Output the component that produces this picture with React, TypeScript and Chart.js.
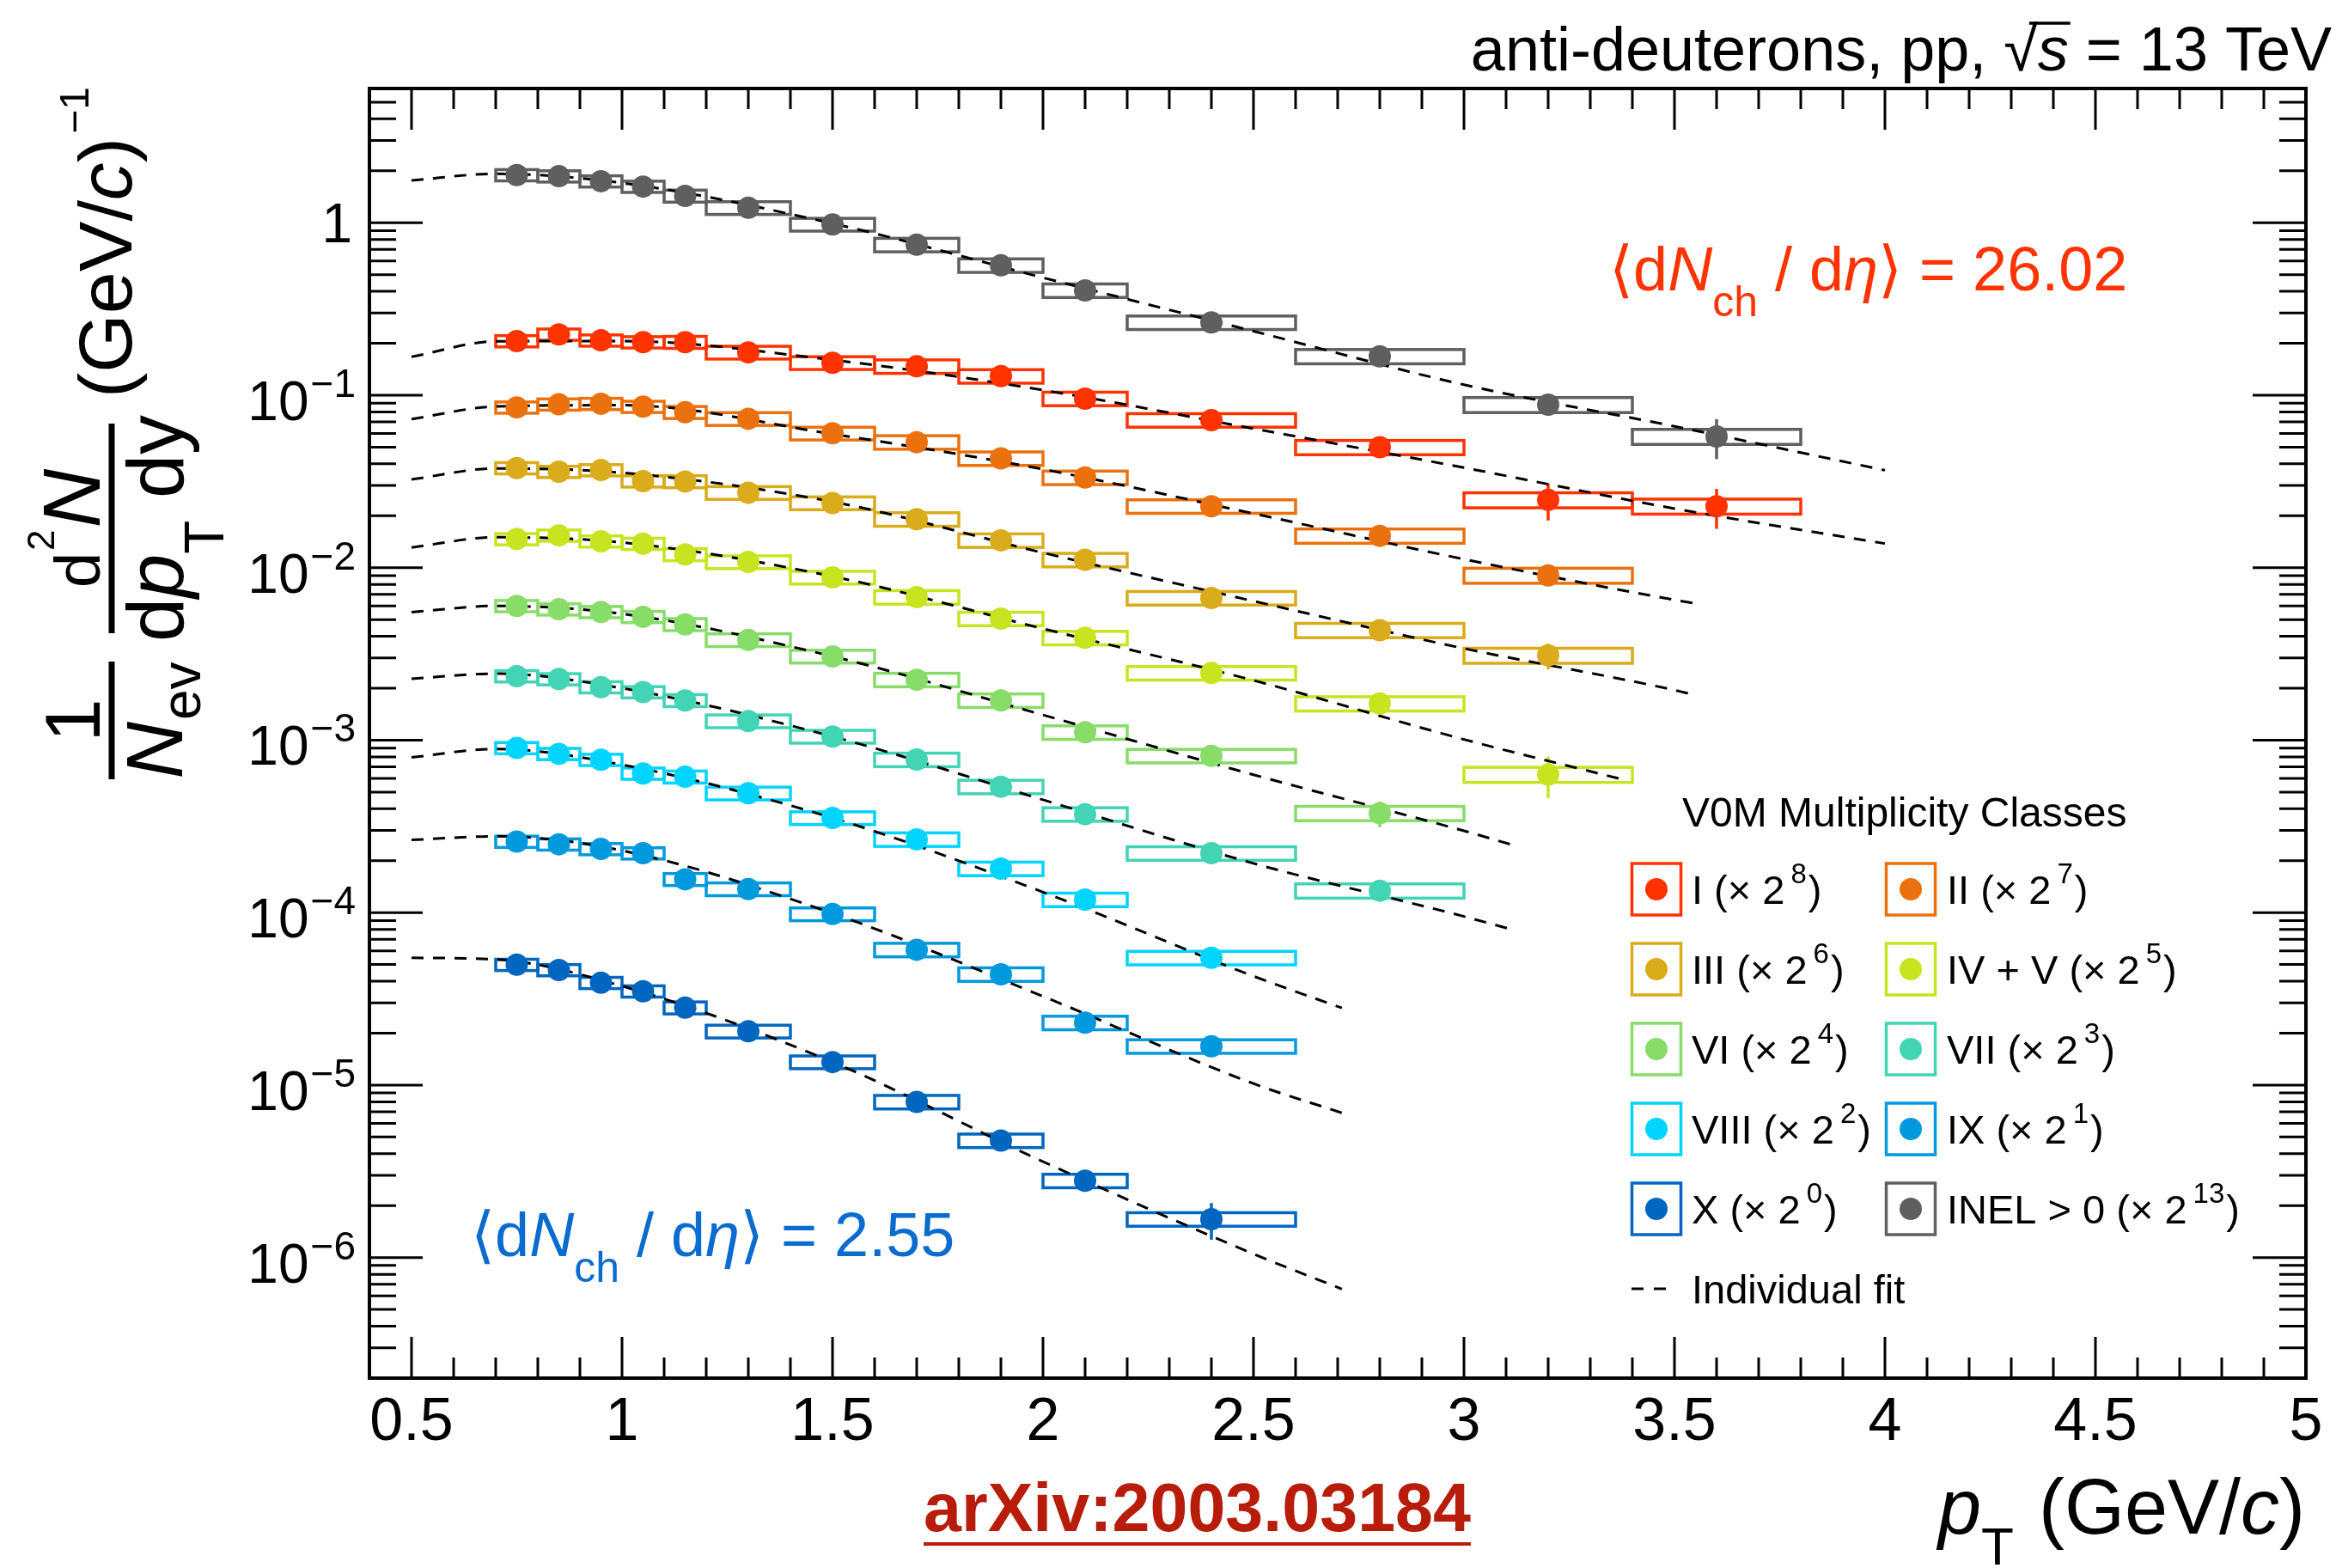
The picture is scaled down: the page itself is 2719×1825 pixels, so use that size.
import React, { useEffect, useRef } from 'react';
import { Chart, registerables } from 'chart.js';

Chart.register(...registerables);

const W = 2719;
const H = 1825;
const FF = '"Liberation Sans", Helvetica, Arial, "DejaVu Sans", sans-serif';
const FB = '"DejaVu Sans", "Liberation Sans", sans-serif';

// ---- binning ----
const ptCenter = [0.75, 0.85, 0.95, 1.05, 1.15, 1.3, 1.5, 1.7, 1.9, 2.1, 2.4, 2.8, 3.2, 3.6];
const ptLow = [0.7, 0.8, 0.9, 1.0, 1.1, 1.2, 1.4, 1.6, 1.8, 2.0, 2.2, 2.6, 3.0, 3.4];
const ptHigh = [0.8, 0.9, 1.0, 1.1, 1.2, 1.4, 1.6, 1.8, 2.0, 2.2, 2.6, 3.0, 3.4, 3.8];
const sysRel = [0.075, 0.075, 0.075, 0.075, 0.08, 0.085, 0.085, 0.09, 0.09, 0.09, 0.09, 0.095, 0.1, 0.1];

// ---- classes ----
const classNames = ['I', 'II', 'III', 'IV + V', 'VI', 'VII', 'VIII', 'IX', 'X', 'INEL > 0'];
const classExponents = ['8', '7', '6', '5', '4', '3', '2', '1', '0', '13'];
const classColors = ['#ff3300', '#eb710f', '#daab1a', '#c8e420', '#87dd68', '#42d4b4', '#00d4ff', '#0099dd', '#0066c0', '#5f5f5f'];

// ---- yields (scaled) ----
const yieldI = [0.206, 0.225, 0.208, 0.203, 0.203, 0.177, 0.154, 0.147, 0.129, 0.0955, 0.0717, 0.0499, 0.0247, 0.0227];
const yieldII = [0.085, 0.0885, 0.0892, 0.0858, 0.0796, 0.073, 0.0601, 0.0534, 0.043, 0.0333, 0.0227, 0.0153, 0.00902];
const yieldIII = [0.0378, 0.036, 0.0368, 0.0317, 0.0316, 0.0272, 0.0237, 0.0191, 0.0144, 0.0111, 0.00667, 0.00434, 0.0031];
const yieldIVV = [0.01466, 0.01538, 0.01422, 0.01378, 0.01193, 0.01079, 0.00878, 0.00675, 0.00506, 0.00392, 0.00245, 0.00163, 0.000632];
const yieldVI = [0.006, 0.00574, 0.00554, 0.00519, 0.00469, 0.00381, 0.00306, 0.00224, 0.0017, 0.00111, 0.000811, 0.000377];
const yieldVII = [0.00235, 0.00226, 0.00203, 0.0019, 0.0017, 0.00129, 0.00105, 0.000771, 0.000537, 0.000372, 0.000221, 0.000134];
const yieldVIII = [0.000901, 0.000833, 0.00077, 0.000641, 0.000613, 0.000492, 0.000354, 0.000266, 0.00018, 0.000119, 5.47e-5];
const yieldIX = [0.000258, 0.000249, 0.000234, 0.000221, 0.000156, 0.000137, 9.81e-5, 6.09e-5, 4.39e-5, 2.3e-5, 1.68e-5];
const yieldX = [4.99e-5, 4.65e-5, 3.92e-5, 3.5e-5, 2.81e-5, 2.05e-5, 1.36e-5, 7.99e-6, 4.77e-6, 2.79e-6, 1.67e-6];
const yieldINEL = [1.89, 1.86, 1.74, 1.62, 1.43, 1.22, 0.977, 0.745, 0.566, 0.405, 0.264, 0.168, 0.0881, 0.0576];

// ---- relative statistical uncertainties ----
const statI = [0.02, 0.02, 0.02, 0.02, 0.02, 0.02, 0.03, 0.03, 0.04, 0.05, 0.06, 0.09, 0.24, 0.26];
const statII = [0.02, 0.02, 0.02, 0.02, 0.02, 0.02, 0.03, 0.03, 0.04, 0.05, 0.06, 0.08, 0.12];
const statIII = [0.02, 0.02, 0.02, 0.02, 0.02, 0.02, 0.03, 0.03, 0.04, 0.05, 0.07, 0.1, 0.17];
const statIVV = [0.02, 0.02, 0.02, 0.02, 0.02, 0.02, 0.03, 0.03, 0.04, 0.05, 0.07, 0.1, 0.27];
const statVI = [0.02, 0.02, 0.02, 0.02, 0.02, 0.02, 0.03, 0.03, 0.04, 0.05, 0.08, 0.17];
const statVII = [0.02, 0.02, 0.02, 0.02, 0.02, 0.02, 0.03, 0.03, 0.04, 0.05, 0.08, 0.12];
const statVIII = [0.02, 0.02, 0.02, 0.02, 0.02, 0.03, 0.03, 0.04, 0.05, 0.06, 0.1];
const statIX = [0.02, 0.02, 0.02, 0.02, 0.02, 0.03, 0.03, 0.04, 0.05, 0.07, 0.11];
const statX = [0.02, 0.02, 0.02, 0.02, 0.03, 0.03, 0.04, 0.05, 0.07, 0.09, 0.24];
const statINEL = [0.01, 0.01, 0.01, 0.01, 0.01, 0.01, 0.02, 0.02, 0.03, 0.04, 0.05, 0.07, 0.1, 0.26];

// ---- individual fits (read at grid pT, last value = end of fit range) ----
const fitGrid = [0.5, 0.7, 1.0, 1.5, 2.0, 2.5, 3.0, 3.5, 4.0];
const fitEnd = [4.0, 3.55, 3.55, 3.38, 3.12, 3.12, 2.71, 2.71, 2.71, 4.0];
const fitI = [0.167, 0.205, 0.206, 0.16, 0.107, 0.064, 0.038, 0.022, 0.0138];
const fitII = [0.0727, 0.086, 0.0875, 0.0595, 0.0372, 0.0206, 0.0112, 0.0065, 0.0062];
const fitIII = [0.0325, 0.0376, 0.0355, 0.0241, 0.0122, 0.0064, 0.0034, 0.00195, 0.00182];
const fitIVV = [0.0131, 0.015, 0.014, 0.0089, 0.00443, 0.00222, 0.00101, 0.000589];
const fitVI = [0.00552, 0.006, 0.0054, 0.00306, 0.0014, 0.00063, 0.000298, 0.000245];
const fitVII = [0.00227, 0.00243, 0.002, 0.00105, 0.000451, 0.000193, 9.5e-5, 7.9e-5];
const fitVIII = [0.000794, 0.000889, 0.00072, 0.000354, 0.0001315, 4.28e-5, 2.8e-5];
const fitIX = [0.000264, 0.000277, 0.000229, 9.9e-5, 3.27e-5, 1.02e-5, 6.9e-6];
const fitX = [5.47e-5, 5.35e-5, 3.75e-5, 1.36e-5, 3.6e-6, 1.05e-6, 6.57e-7];
const fitINEL = [1.76, 1.92, 1.7, 0.99, 0.48, 0.235, 0.115, 0.066, 0.0367];

// ---- axes ----
const xMin = 0.4;
const xMax = 5.0;
const yMin = 2e-7;
const yMax = 6;
const xTickValues = [0.5, 1, 1.5, 2, 2.5, 3, 3.5, 4, 4.5, 5];
const xTickLabels = ['0.5', '1', '1.5', '2', '2.5', '3', '3.5', '4', '4.5', '5'];
const yTickExponents = [0, -1, -2, -3, -4, -5, -6];

const series = [
  { values: yieldI, stat: statI, fit: fitI },
  { values: yieldII, stat: statII, fit: fitII },
  { values: yieldIII, stat: statIII, fit: fitIII },
  { values: yieldIVV, stat: statIVV, fit: fitIVV },
  { values: yieldVI, stat: statVI, fit: fitVI },
  { values: yieldVII, stat: statVII, fit: fitVII },
  { values: yieldVIII, stat: statVIII, fit: fitVIII },
  { values: yieldIX, stat: statIX, fit: fitIX },
  { values: yieldX, stat: statX, fit: fitX },
  { values: yieldINEL, stat: statINEL, fit: fitINEL },
];

type Seg = { t: string; size: number; italic?: boolean; bold?: boolean; dy?: number; dx?: number; family?: string };

function fontOf(s: Seg) {
  return `${s.italic ? 'italic ' : ''}${s.bold ? 'bold ' : ''}${s.size}px ${s.family || FF}`;
}

function drawSegs(ctx: CanvasRenderingContext2D, x: number, y: number, segs: Seg[], align: 'left' | 'right' | 'center') {
  let w = 0;
  for (const s of segs) {
    ctx.font = fontOf(s);
    w += (s.dx || 0) + ctx.measureText(s.t).width;
  }
  let cx = align === 'left' ? x : align === 'right' ? x - w : x - w / 2;
  ctx.textAlign = 'left';
  ctx.textBaseline = 'alphabetic';
  const pos: { x: number; w: number; asc: number }[] = [];
  for (const s of segs) {
    ctx.font = fontOf(s);
    cx += s.dx || 0;
    ctx.fillText(s.t, cx, y + (s.dy || 0));
    const m = ctx.measureText(s.t);
    pos.push({ x: cx, w: m.width, asc: m.actualBoundingBoxAscent });
    cx += m.width;
  }
  return pos;
}

const boxesPlugin = {
  id: 'sysBoxes',
  beforeDatasetsDraw(chart: any) {
    const ctx: CanvasRenderingContext2D = chart.ctx;
    const xs = chart.scales.x;
    const ys = chart.scales.y;
    const a = chart.chartArea;
    ctx.save();
    ctx.beginPath();
    ctx.rect(a.left, a.top, a.right - a.left, a.bottom - a.top);
    ctx.clip();
    series.forEach((s, si) => {
      ctx.strokeStyle = classColors[si];
      ctx.lineWidth = 3.5;
      s.values.forEach((v, i) => {
        const x0 = xs.getPixelForValue(ptLow[i]);
        const x1 = xs.getPixelForValue(ptHigh[i]);
        const y0 = ys.getPixelForValue(v * (1 + sysRel[i]));
        const y1 = ys.getPixelForValue(v * (1 - sysRel[i]));
        ctx.strokeRect(x0, y0, x1 - x0, y1 - y0);
        const xc = xs.getPixelForValue(ptCenter[i]);
        const e0 = ys.getPixelForValue(v * (1 + s.stat[i]));
        const e1 = ys.getPixelForValue(v * (1 - s.stat[i]));
        ctx.beginPath();
        ctx.moveTo(xc, e0);
        ctx.lineTo(xc, e1);
        ctx.stroke();
      });
    });
    ctx.restore();
  },
};

const axesPlugin = {
  id: 'rootAxes',
  afterDatasetsDraw(chart: any) {
    const ctx: CanvasRenderingContext2D = chart.ctx;
    const xs = chart.scales.x;
    const ys = chart.scales.y;
    const a = chart.chartArea;
    ctx.save();
    ctx.strokeStyle = '#000';
    ctx.fillStyle = '#000';
    ctx.lineWidth = 3;
    ctx.beginPath();
    for (let k = 5; k <= 49; k++) {
      const v = k / 10;
      const major = k % 5 === 0;
      const len = major ? 48 : 24;
      const px = xs.getPixelForValue(v);
      ctx.moveTo(px, a.bottom);
      ctx.lineTo(px, a.bottom - len);
      ctx.moveTo(px, a.top);
      ctx.lineTo(px, a.top + len);
    }
    for (let e = -7; e <= 0; e++) {
      for (let k = 1; k <= 9; k++) {
        const v = k * Math.pow(10, e);
        if (v < yMin * 0.999 || v > yMax * 1.001) continue;
        const len = k === 1 ? 62 : 31;
        const py = ys.getPixelForValue(v);
        ctx.moveTo(a.left, py);
        ctx.lineTo(a.left + len, py);
        ctx.moveTo(a.right, py);
        ctx.lineTo(a.right - len, py);
      }
    }
    ctx.stroke();
    ctx.lineWidth = 4;
    ctx.strokeRect(a.left, a.top, a.right - a.left, a.bottom - a.top);

    ctx.textAlign = 'center';
    ctx.textBaseline = 'alphabetic';
    ctx.font = `70px ${FF}`;
    xTickValues.forEach((v, i) => {
      ctx.fillText(xTickLabels[i], xs.getPixelForValue(v), a.bottom + 72);
    });
    yTickExponents.forEach((e) => {
      const py = ys.getPixelForValue(Math.pow(10, e));
      if (e === 0) {
        drawSegs(ctx, a.left - 20, py + 23, [{ t: '1', size: 64 }], 'right');
      } else {
        drawSegs(ctx, a.left - 16, py + 29, [
          { t: '10', size: 64 },
          { t: '\u2212' + String(-e), size: 46, dy: -27, dx: 2 },
        ], 'right');
      }
    });
    ctx.restore();
  },
};

const textPlugin = {
  id: 'rootText',
  afterDraw(chart: any) {
    const ctx: CanvasRenderingContext2D = chart.ctx;
    ctx.save();
    ctx.fillStyle = '#000';

    const tp = drawSegs(ctx, 2714, 82, [
      { t: 'anti-deuterons, pp, ', size: 72 },
      { t: '\u221A', size: 72 },
      { t: 's', size: 72, italic: true },
      { t: ' = 13 TeV', size: 72 },
    ], 'right');
    ctx.strokeStyle = '#000';
    ctx.lineWidth = 3.5;
    ctx.beginPath();
    const ovY = 82 - tp[1].asc + 2;
    ctx.moveTo(tp[1].x + tp[1].w * 0.75, ovY);
    ctx.lineTo(tp[2].x + tp[2].w + 2, ovY);
    ctx.stroke();

    const mult = (val: string): Seg[] => [
      { t: '\u27E8', size: 72, family: FB },
      { t: 'd', size: 72 },
      { t: 'N', size: 72, italic: true },
      { t: 'ch', size: 50, dy: 30 },
      { t: ' / d', size: 72 },
      { t: '\u03B7', size: 72, italic: true },
      { t: '\u27E9', size: 72, family: FB },
      { t: ' = ' + val, size: 72 },
    ];
    ctx.fillStyle = '#ff3300';
    drawSegs(ctx, 1873, 338, mult('26.02'), 'left');
    ctx.fillStyle = '#0a6ccf';
    drawSegs(ctx, 548, 1462, mult('2.55'), 'left');

    ctx.fillStyle = '#000';
    drawSegs(ctx, 2683, 1785, [
      { t: 'p', size: 90, italic: true },
      { t: 'T', size: 62, dy: 36 },
      { t: ' (GeV/', size: 90, dx: 4 },
      { t: 'c', size: 90, italic: true },
      { t: ')', size: 90 },
    ], 'right');

    ctx.fillStyle = '#b81c0b';
    const ax = drawSegs(ctx, 1075, 1782, [{ t: 'arXiv:2003.03184', size: 79, bold: true }], 'left');
    ctx.fillRect(ax[0].x, 1795, ax[0].w, 4);

    ctx.fillStyle = '#000';
    ctx.save();
    ctx.translate(130, 907);
    ctx.rotate(-Math.PI / 2);
    ctx.fillRect(0, -3.5, 137, 7);
    drawSegs(ctx, 68.5, -14, [{ t: '1', size: 90 }], 'center');
    drawSegs(ctx, 68.5, 82, [
      { t: 'N', size: 92, italic: true },
      { t: 'ev', size: 64, dy: 21, dx: 2 },
    ], 'center');
    ctx.fillRect(170, -3.5, 244, 7);
    drawSegs(ctx, 292, -14, [
      { t: 'd', size: 74 },
      { t: '2', size: 44, dy: -53, dx: 2 },
      { t: 'N', size: 95, italic: true, dx: 2 },
    ], 'center');
    drawSegs(ctx, 292, 83, [
      { t: 'd', size: 92 },
      { t: 'p', size: 92, italic: true },
      { t: 'T', size: 64, dy: 47 },
      { t: ' dy', size: 92 },
    ], 'center');
    drawSegs(ctx, 444, 23, [
      { t: '(GeV/', size: 88 },
      { t: 'c', size: 88, italic: true },
      { t: ')', size: 88 },
      { t: '\u22121', size: 48, dy: -50, dx: 4 },
    ], 'left');
    ctx.restore();

    ctx.fillStyle = '#000';
    drawSegs(ctx, 1958, 962, [{ t: 'V0M Multiplicity Classes', size: 48 }], 'left');
    const rowY = [1035, 1128, 1221, 1314, 1407];
    const boxX = [1928, 2224];
    const textX = [1969, 2266];
    classNames.forEach((name, i) => {
      const col = i % 2;
      const row = Math.floor(i / 2);
      const cx = boxX[col];
      const cy = rowY[row];
      ctx.strokeStyle = classColors[i];
      ctx.lineWidth = 3.5;
      ctx.strokeRect(cx - 28.5, cy - 30, 57, 60);
      ctx.fillStyle = classColors[i];
      ctx.beginPath();
      ctx.arc(cx, cy, 13, 0, Math.PI * 2);
      ctx.fill();
      ctx.fillStyle = '#000';
      drawSegs(ctx, textX[col], cy + 17, [
        { t: name + ' (\u00D7 2', size: 47 },
        { t: classExponents[i], size: 33, dy: -24, dx: 7 },
        { t: ')', size: 47, dx: 2 },
      ], 'left');
    });
    ctx.strokeStyle = '#000';
    ctx.lineWidth = 3;
    ctx.setLineDash([14, 12]);
    ctx.beginPath();
    ctx.moveTo(1899, 1500);
    ctx.lineTo(1941, 1500);
    ctx.stroke();
    ctx.setLineDash([]);
    drawSegs(ctx, 1969, 1517, [{ t: 'Individual fit', size: 47 }], 'left');

    ctx.restore();
  },
};

function buildDatasets() {
  const fits = series.map((s, si) => {
    const xs = fitGrid.filter((p) => p < fitEnd[si] - 1e-9).concat([fitEnd[si]]);
    return {
      label: 'fit ' + classNames[si],
      data: xs.map((x, i) => ({ x, y: s.fit[i] })),
      showLine: true,
      borderColor: '#000',
      borderWidth: 3,
      borderDash: [14, 11],
      pointRadius: 0,
      pointHoverRadius: 0,
      fill: false,
      cubicInterpolationMode: 'monotone' as const,
      order: 2,
    };
  });
  const points = series.map((s, si) => ({
    label: classNames[si],
    data: s.values.map((v, i) => ({ x: ptCenter[i], y: v })),
    showLine: false,
    pointRadius: 13,
    pointHoverRadius: 13,
    pointBorderWidth: 0,
    backgroundColor: classColors[si],
    borderColor: classColors[si],
    order: 1,
  }));
  return [...fits, ...points];
}

export default function App() {
  const ref = useRef<HTMLCanvasElement>(null);
  useEffect(() => {
    const canvas = ref.current;
    if (!canvas) return;
    const chart = new Chart(canvas, {
      type: 'scatter',
      data: { datasets: buildDatasets() as any },
      options: {
        animation: false,
        responsive: false,
        devicePixelRatio: 1,
        events: [],
        layout: { padding: { left: 430, right: W - 2684, top: 103, bottom: H - 1604 } },
        scales: {
          x: { type: 'linear', min: xMin, max: xMax, display: false },
          y: { type: 'logarithmic', min: yMin, max: yMax, display: false },
        },
        plugins: {
          legend: { display: false },
          tooltip: { enabled: false },
          title: { display: false },
        },
      } as any,
      plugins: [boxesPlugin, axesPlugin, textPlugin],
    });
    return () => chart.destroy();
  }, []);
  return (
    <div style={{ position: 'absolute', left: 0, top: 0, width: W, height: H, background: '#fff' }}>
      <canvas ref={ref} width={W} height={H} style={{ display: 'block', width: W, height: H }} />
    </div>
  );
}
